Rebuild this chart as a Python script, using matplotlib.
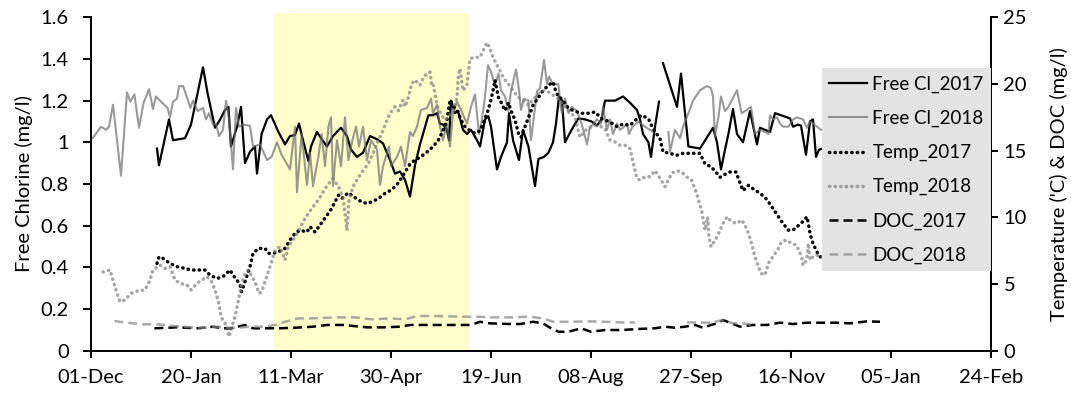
import numpy as np
import matplotlib.pyplot as plt

plt.rcParams['font.family'] = ['Lato', 'DejaVu Sans']

# x axis: days counted from 01-Dec
tick_pos = list(range(0, 451, 50))
tick_labels = ['01-Dec', '20-Jan', '11-Mar', '30-Apr', '19-Jun', '08-Aug',
               '27-Sep', '16-Nov', '05-Jan', '24-Feb']
spring_start, spring_end = 91.6, 189

# Free chlorine (mg/l), left axis
fcl17_day = [33, 34, 39, 41, 47, 50, 56, 58.3, 62, 64, 67, 68.7, 70, 73, 75, 77, 79.5, 82, 83, 85.3,
             88, 90, 93.7, 97, 99.5, 102, 104, 106, 108.7, 110, 113, 115, 118, 121, 125, 128, 130, 133,
             136, 139.5, 143, 146, 149.5, 152, 154.5, 157, 159.5, 162, 164.5, 168.7, 171, 173, 174.5,
             176, 178, 179, 180, 182, 183.5, 186, 188, 190, 193, 194.5, 197, 198.7, 200, 203, 205, 208,
             209, 211, 214, 216, 218.7, 222, 223.7, 226.5, 228.7, 231, 232.5, 234, 235.5, 237, 240.3,
             243.7, 247, 250.3, 253, 255.3, 257, 262, 266, 269.5, 273, 274.5, 276, 278.7, 280, 282, 284,
             285, 286, 293, 295, 298.7, 304.5, 311, 313, 315, 317, 318.7, 321, 323, 326, 329.5, 333,
             334.5, 337, 339.5, 342, 345, 349.5, 351, 353.5, 355, 357.5, 359.5, 361, 362.5, 364, 366, 372]
fcl17_val = [0.97, 0.89, 1.11, 1.01, 1.02, 1.085, 1.36, 1.235, 1.07, 1.1, 1.155, 1.17, 0.98, 1.075, 1.17,
             0.9, 0.955, 0.98, 0.85, 1.04, 1.11, 1.13, 1.05, 0.99, 1.03, 1.035, 1.09, 1.01, 0.91, 0.98,
             1.05, 1.02, 0.98, 1.03, 1.07, 1.03, 0.965, 0.93, 0.95, 1.03, 1.015, 0.995, 0.915, 0.85, 0.86,
             0.82, 0.74, 0.89, 0.99, 1.13, 1.13, 1.14, 1.09, 1.085, 1.06, 1.01, 1.2, 1.14, 1.15, 1.06,
             1.04, 1.06, 1.01, 0.98, 1.11, 1.125, 1.075, 0.87, 0.93, 1.0, 1.14, 1.01, 0.915, 1.06, 0.98,
             0.79, 0.92, 0.93, 0.95, 1.0, 1.09, 1.22, 1.2, 1.0, 1.06, 1.115, 1.11, 1.1, 1.08, 1.11, 1.2,
             1.2, 1.22, 1.19, 1.155, 1.11, 1.04, 1.0, 0.93, 1.075, 1.195, np.nan, 1.38, 1.17, 1.33, 0.98,
             0.97, 1.07, 1.0, 0.87, 0.965, 1.04, 1.16, 1.04, 1.0, 1.15, 0.99, 1.07, 1.06, 1.05, 1.14,
             1.13, 1.115, 1.075, 1.085, 1.08, 0.94, 1.1, 1.11, 0.93, 0.965, 0.97, 1.0]

fcl18_day = [0.8, 5, 7.5, 9, 11, 15, 18, 19.7, 21.7, 24, 26.3, 29, 31, 32.5, 35, 38.3, 39.5, 41, 43, 44,
             46, 47.5, 49.7, 51, 53.3, 56, 57.5, 59, 61, 62.5, 64, 66, 67.5, 69, 71, 72.5, 74, 76, 79.5,
             81, 84.5, 88, 90.3, 93, 95.3, 99.5, 102, 103, 105.3, 108, 109.5, 111, 113.7, 115.3, 117,
             118.7, 120, 121, 123, 125, 127, 128.7, 130.7, 132.5, 134, 136, 138, 140, 143, 144.5, 146,
             149, 150, 153, 155, 157, 159.5, 161, 163, 165, 168, 170, 171, 173, 174.5, 176, 178, 179.5,
             181, 183, 185, 188, 190, 192, 194, 195.5, 197, 198.5, 200, 202, 203.7, 205, 207, 208.7, 210,
             212.5, 214, 215, 216.5, 218.7, 220, 223, 224.5, 226.5, 228, 229, 231, 233.7, 234.8, 235.5,
             237, 238.7, 240.3, 243, 245.3, 248, 249.5, 251, 253, 255, 256, 258, 259.5, 261, 263, 264.5,
             266, 268, 269, 270.7, 273.7, 277, 281, 285, 288.7, 289.5, 292, 294.5, 296, 298.7, 301,
             304.5, 308, 310, 311, 312, 313.7, 315, 317, 318.7, 320.3, 323, 325.3, 327.8, 330, 332,
             334.5, 337, 338.7, 339.5, 341, 343, 344.5, 346, 348.7, 351, 353, 354.5, 356, 358, 359.5,
             361, 363, 365, 370]
fcl18_val = [1.02, 1.075, 1.06, 1.075, 1.18, 0.84, 1.24, 1.195, 1.23, 1.07, 1.19, 1.255, 1.16, 1.22,
             1.195, 1.165, 1.12, 1.195, 1.21, 1.27, 1.27, 1.23, 1.165, 1.2, 1.15, 1.165, 1.11, 1.14,
             1.085, 1.09, 1.03, 1.06, 1.2, 1.11, 0.87, 1.165, 1.075, 1.085, 1.08, 0.98, 0.99, 0.915,
             0.93, 1.0, 0.94, 0.87, 1.075, 0.76, 1.04, 0.795, 0.95, 0.79, 0.93, 1.04, 0.885, 1.075,
             1.12, 0.79, 1.01, 0.885, 1.12, 0.915, 1.01, 1.075, 0.98, 1.075, 0.915, 1.01, 0.965, 0.795,
             0.885, 0.98, 0.885, 0.93, 0.98, 0.885, 1.05, 1.03, 1.075, 1.155, 1.165, 1.21, 1.14, 1.18,
             1.075, 1.01, 1.09, 0.98, 1.14, 1.195, 1.155, 1.09, 1.17, 1.23, 1.04, 1.11, 1.22, 1.37, 1.34,
             1.27, 1.33, 1.25, 1.22, 1.15, 1.245, 1.35, 1.25, 1.155, 1.21, 1.2, 1.01, 1.245, 1.26, 1.395,
             1.28, 1.315, 1.28, 1.28, 1.17, 1.14, 1.21, 1.14, 1.17, 1.15, 1.09, 0.99, 1.075, 1.085, 1.11,
             1.09, 1.17, 1.06, 1.11, 1.04, 1.09, 1.06, 1.07, 1.09, 1.04, 1.075, 1.1, 1.075, 1.05, np.nan,
             1.05, 0.955, 1.06, 1.02, 1.075, 1.14, 1.2, 1.25, 1.27, 1.26, 1.22, 1.03, 1.12, 1.22, 1.15,
             1.17, 1.2, 1.25, 1.14, 1.155, 1.17, 1.04, 1.06, 1.05, 1.04, 1.13, 1.11, 1.12, 1.09, 1.075,
             1.075, 1.11, 1.12, 1.115, 1.11, 1.07, 1.1, 1.09, 1.075, 1.06, 1.05]

# Temperature ('C), right axis
temp17_day = [33, 34, 36, 39.5, 43, 47, 50, 52.5, 57, 59.5, 63, 66, 69.5, 71, 73, 74.5, 75.3, 77, 79.5,
              81, 83.7, 87, 88.7, 91, 93.7, 97, 99.5, 102, 104.5, 108, 109.5, 112, 118.7, 120.3, 123.7,
              125.3, 128.7, 130.3, 132.8, 135.3, 138, 140.3, 143.7, 147, 150, 152.8, 155, 157.5, 159.5,
              162, 164.5, 168, 171, 173.7, 176, 178, 179.5, 181, 183.5, 185, 187, 189.5, 192, 194.5, 196,
              198, 199.5, 201, 202, 203.7, 205, 207, 208.7, 210, 212, 213.7, 215, 217, 218.7, 221, 223.7,
              226, 228.7, 231, 232, 233.7, 235.3, 238, 241, 245.3, 248.7, 252, 255.3, 259.5, 263, 266,
              269.5, 273, 275.3, 278.7, 281, 284.5, 286, 289.5, 292.8, 296, 301, 304.5, 307, 310, 313,
              314.5, 316, 319.5, 322.5, 323.7, 326, 328.7, 331, 334.5, 337, 339.5, 341, 343.7, 346, 348.7,
              351, 353, 355, 358, 358.7, 359.5, 361, 363, 364.5, 370]
temp17_val = [6.55, 7.04, 6.92, 6.55, 6.3, 6.17, 6.05, 6.05, 6.05, 5.67, 5.42, 5.55, 6.05, 5.67, 5.3,
              4.92, 4.42, 5.17, 6.3, 7.3, 7.67, 7.67, 7.3, 7.3, 7.42, 7.67, 8.3, 8.8, 9.04, 8.9, 9.3, 8.9,
              10.3, 10.66, 11.66, 11.4, 11.85, 11.66, 11.4, 11.16, 11.04, 11.16, 11.4, 11.8, 12.04, 12.4,
              12.9, 13.5, 14.0, 14.3, 14.5, 14.9, 15.3, 15.8, 16.5, 17.3, 18.8, 18.4, 17.9, 17.3, 16.8,
              16.5, 16.3, 16.5, 17.0, 17.8, 18.5, 19.5, 20.3, 19.0, 18.65, 18.0, 18.6, 18.0, 17.3, 16.3,
              16.0, 16.8, 17.5, 18.4, 19.0, 19.5, 19.9, 20.15, 19.65, 19.0, 18.9, 18.3, 18.0, 17.8, 17.8,
              17.9, 17.4, 17.15, 16.8, 17.0, 16.9, 17.4, 17.65, 17.4, 16.65, 15.9, 14.9, 14.8, 14.65,
              14.8, 14.8, 14.8, 14.0, 13.8, 13.3, 13.0, 13.15, 13.4, 13.4, 12.9, 12.0, 12.4, 12.15, 11.8,
              11.5, 11.0, 10.66, 10.04, 9.54, 9.04, 9.04, 9.3, 9.54, 10.04, 9.54, 8.8, 8.04, 7.4, 7.04,
              7.0]

temp18_day = [6, 9.5, 11, 13, 14.5, 17, 20, 23.7, 27, 29.5, 31, 34.5, 37, 39.5, 42, 44.5, 48, 50, 53,
              55.3, 58, 60.3, 62, 63.7, 65, 68, 69, 70, 72, 73.7, 75.3, 77, 78.7, 80.5, 82, 84, 85.3, 87,
              89.5, 92, 94.5, 97, 98.7, 101, 103.7, 106, 108.7, 111, 113.7, 116, 118.7, 121, 123.7, 126,
              128, 129, 131, 133.7, 136, 138.7, 141, 143.7, 146, 148, 149.5, 152, 153.7, 156, 157, 158.7,
              160.3, 162, 164.5, 166, 168, 169.5, 170.3, 171, 172, 173, 175.3, 177, 178.7, 181, 183,
              183.7, 184.5, 186, 188, 189.5, 192, 194.5, 197, 198, 199.5, 201, 203, 204.5, 206, 208.7,
              211, 213.7, 216, 218.7, 221, 223.7, 226, 228.7, 231, 233.7, 237, 239.5, 242, 244.5, 247,
              250.3, 253.7, 257, 259.5, 262, 264.5, 267, 269.5, 271, 273, 274.5, 277, 279.5, 282, 283,
              287, 288.7, 290.3, 292.8, 295.3, 297.8, 300.3, 302.8, 305.3, 307, 308.3, 309, 310, 313,
              314.5, 316, 318, 320.3, 323, 325.3, 327, 328.7, 330.3, 332, 333.7, 335, 337, 338.7, 343.7,
              345.3, 347.8, 350.3, 352.8, 355.3, 356, 357.8, 358.7, 359.5, 361, 363, 364.5, 370]
temp18_val = [5.9, 6.05, 5.3, 4.3, 3.67, 3.8, 4.3, 4.5, 4.55, 5.3, 6.05, 6.42, 6.17, 6.3, 5.3, 5.05,
              4.92, 4.55, 5.05, 5.3, 5.55, 5.17, 4.55, 3.67, 2.55, 1.8, 1.05, 1.55, 2.55, 3.8, 5.05, 5.8,
              6.05, 5.55, 5.17, 4.3, 4.42, 5.17, 6.3, 7.54, 7.8, 6.8, 7.8, 8.3, 8.9, 9.66, 10.3, 10.8,
              11.3, 11.9, 12.5, 12.9, 12.3, 11.5, 9.04, 11.3, 12.3, 13.0, 13.5, 14.04, 14.8, 15.8, 16.5,
              17.3, 17.8, 18.3, 18.0, 18.8, 18.3, 19.0, 20.0, 20.3, 19.9, 20.4, 20.8, 20.9, 19.9, 20.0,
              19.3, 18.4, 17.65, 17.3, 17.5, 18.0, 19.0, 20.65, 21.15, 19.5, 19.9, 21.9, 22.0, 22.0, 22.8,
              23.1, 22.65, 22.0, 21.4, 21.0, 20.5, 20.0, 19.5, 19.0, 18.8, 18.4, 18.8, 19.3, 19.5, 19.4,
              19.15, 18.9, 18.3, 17.9, 17.5, 16.0, 16.5, 16.8, 16.9, 16.65, 15.8, 15.65, 15.4, 15.4,
              15.15, 14.15, 12.9, 12.8, 13.04, 13.04, 13.5, 13.3, 12.3, 12.8, 13.3, 13.5, 13.4, 13.04,
              12.8, 11.8, 10.5, 9.04, 10.04, 8.54, 7.8, 8.54, 9.04, 9.54, 10.04, 9.66, 9.54, 9.8, 9.42,
              8.8, 8.04, 7.04, 6.3, 5.8, 5.67, 6.55, 7.67, 8.17, 8.3, 8.04, 7.92, 7.04, 6.4, 6.8, 8.04,
              6.8, 7.04, 7.17, 7.04, 7.0]

# DOC (mg/l), right axis
doc17_day = [31.7, 43, 53.7, 61, 66, 70, 77, 81, 85, 94.5, 103, 111, 118, 126, 138, 146, 154.5, 159.5,
             171, 186, 190, 194.5, 199.5, 209.5, 214.5, 221, 226, 230, 233.7, 238.7, 245, 250, 257,
             265.3, 273.7, 282, 287, 292, 297, 302, 306, 310, 313, 316, 319.5, 324.5, 331, 338, 344.5,
             351, 358, 364.5, 373, 379.5, 388, 394.5]
doc17_val = [1.68, 1.75, 1.68, 1.8, 1.68, 1.68, 1.93, 1.68, 1.68, 1.68, 1.73, 1.8, 1.93, 1.93, 1.75,
             1.75, 1.8, 1.93, 1.93, 1.93, 1.93, 2.17, 2.05, 2.0, 2.0, 2.17, 2.05, 1.68, 1.42, 1.42, 1.68,
             1.42, 1.55, 1.55, 1.63, 1.68, 1.8, 1.72, 1.8, 1.93, 1.72, 1.93, 2.05, 2.3, 2.1, 1.8, 1.93,
             1.93, 2.1, 2.0, 2.1, 2.1, 2.1, 2.05, 2.2, 2.17]

doc18_day = [11.7, 18.3, 25, 33.3, 41.7, 50, 57, 63.3, 68.3, 73.3, 80, 87, 92, 97, 103.7, 110, 123.7,
             132, 140, 150, 157, 163, 174.5, 184.5, 193, 199.5, 209.5, 219.5, 226, 231, 240, 250, 257,
             265.3, 272, 285, 298, 303.7, 310, 316, 321, 326, 331]
doc18_val = [2.22, 2.1, 1.98, 1.98, 1.85, 1.75, 1.72, 1.8, 1.72, 1.72, 1.8, 1.8, 1.93, 2.17, 2.42, 2.42,
             2.5, 2.5, 2.35, 2.42, 2.35, 2.6, 2.6, 2.55, 2.55, 2.5, 2.5, 2.55, 2.42, 2.17, 2.17, 2.2,
             2.17, 2.12, 2.12, np.nan, 2.12, 2.12, 2.1, 2.3, 2.05, 2.05, 1.93]

fig = plt.figure(figsize=(10.71, 3.97), dpi=100)
ax = fig.add_axes([91 / 1071, 1 - 350.7 / 397, 900 / 1071, 333.4 / 397])
ax2 = ax.twinx()

# spring period shading
span = ax.axvspan(spring_start, spring_end, ymin=0, ymax=1.012, color='#ffffcc', lw=0, zorder=0)
span.set_clip_on(False)

dots = dict(ls=(0, (0.1, 1.5)), dash_capstyle='round', lw=2.5)
dash = dict(ls=(0, (3.6, 2.0)), lw=1.8)

l1, = ax.plot(fcl17_day, fcl17_val, color='black', lw=1.6, label='Free Cl_2017')
l2, = ax.plot(fcl18_day, fcl18_val, color='#6e6e6e', alpha=0.7, lw=1.5, label='Free Cl_2018')
l3, = ax2.plot(temp17_day, temp17_val, color='black', label='Temp_2017', **dots)
l4, = ax2.plot(temp18_day, temp18_val, color='#808080', alpha=0.7, label='Temp_2018', **dots)
l5, = ax2.plot(doc17_day, doc17_val, color='black', label='DOC_2017', **dash)
l6, = ax2.plot(doc18_day, doc18_val, color='#858585', alpha=0.7, label='DOC_2018', **dash)

ax.set_xlim(0, 450)
ax.set_ylim(0, 1.6)
ax2.set_ylim(0, 25)
ax.set_xticks(tick_pos)
ax.set_xticklabels(tick_labels)
ax.set_yticks(np.arange(0, 1.61, 0.2))
ax.set_yticklabels(['0', '0.2', '0.4', '0.6', '0.8', '1', '1.2', '1.4', '1.6'])
ax2.set_yticks(range(0, 26, 5))

for a in (ax, ax2):
    a.spines['top'].set_visible(False)
    for s in a.spines.values():
        s.set_linewidth(1.4)
ax.spines['right'].set_visible(False)
ax2.spines['left'].set_visible(False)
ax2.spines['bottom'].set_visible(False)

ax.tick_params(axis='y', direction='out', length=6, width=1.4, labelsize=14.5, pad=10)
ax.tick_params(axis='x', direction='out', length=5, width=1.4, labelsize=14.5, pad=8)
ax2.tick_params(axis='y', direction='out', length=5, width=1.4, labelsize=14.5, pad=4)

ax.set_ylabel('Free Chlorine (mg/l)', fontsize=14.5)
ax.yaxis.set_label_coords(-0.064, 0.5)
ax2.set_ylabel("Temperature ('C) & DOC (mg/l)", fontsize=14.5)
ax2.yaxis.set_label_coords(1.066, 0.5)

leg = ax2.legend(handles=[l1, l2, l3, l4, l5, l6], loc='upper left',
                 bbox_to_anchor=(821.7 / 1071, 1 - 68.3 / 397), bbox_transform=fig.transFigure,
                 frameon=True, fancybox=False, facecolor='#e3e3e3', edgecolor='none', framealpha=1,
                 fontsize=13.5, handlelength=2.0, handletextpad=0.3, labelspacing=0.9,
                 borderpad=0.4, borderaxespad=0)
leg.set_zorder(10)

fig.savefig('out.png', dpi=100)
